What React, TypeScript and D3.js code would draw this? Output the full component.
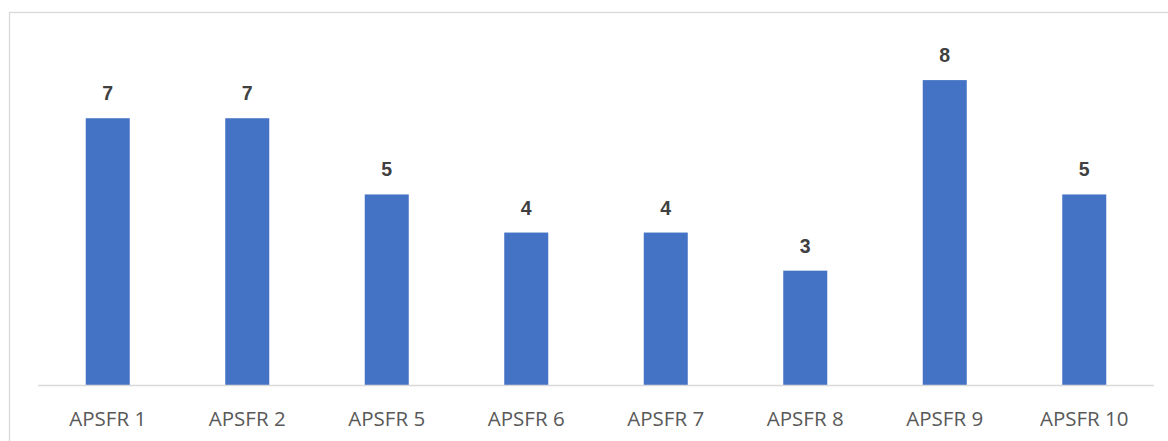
import React, { useEffect, useRef } from 'react';
import * as d3 from 'd3';

const categories = ['APSFR 1', 'APSFR 2', 'APSFR 5', 'APSFR 6', 'APSFR 7', 'APSFR 8', 'APSFR 9', 'APSFR 10'];
const values = [7, 7, 5, 4, 4, 3, 8, 5];
const yDomainMax = 9;

export default function App() {
  const svgRef = useRef<SVGSVGElement>(null);

  useEffect(() => {
    if (!svgRef.current) return;

    const svg = d3.select(svgRef.current);
    svg.selectAll('*').remove();

    const width = 1168;
    const height = 441;
    const plot = { left: 38, right: 1154, top: 42, bottom: 385 };

    // Chart frame (runs off the right and bottom edge like the screenshot)
    svg.append('rect')
      .attr('x', 9.5)
      .attr('y', 12.5)
      .attr('width', width + 20)
      .attr('height', height + 20)
      .style('fill', '#fff')
      .style('stroke', '#d9d9d9')
      .style('stroke-width', 1.3);

    // Scales
    const xScale = d3.scaleBand()
      .domain(categories)
      .range([plot.left, plot.right])
      .paddingInner(0.6846)
      .paddingOuter(0.6846 / 2);

    const xCenter = d3.scaleBand()
      .domain(categories)
      .range([plot.left, plot.right])
      .padding(0);

    const yScale = d3.scaleLinear()
      .domain([0, yDomainMax])
      .range([plot.bottom, plot.top]);

    // Bars
    svg.append('g')
      .selectAll('rect')
      .data(values)
      .enter()
      .append('rect')
      .attr('x', (d, i) => xScale(categories[i])!)
      .attr('y', d => yScale(d))
      .attr('width', xScale.bandwidth())
      .attr('height', d => yScale(0) - yScale(d))
      .style('fill', '#4472c4');

    // Baseline
    svg.append('line')
      .attr('x1', plot.left)
      .attr('x2', plot.right)
      .attr('y1', yScale(0) + 0.5)
      .attr('y2', yScale(0) + 0.5)
      .style('stroke', '#d9d9d9')
      .style('stroke-width', 1.5);

    // Value labels
    svg.append('g')
      .selectAll('text')
      .data(values)
      .enter()
      .append('text')
      .attr('x', (d, i) => xScale(categories[i])! + xScale.bandwidth() / 2)
      .attr('y', d => yScale(d) - 18)
      .attr('text-anchor', 'middle')
      .style('font-family', '"Liberation Sans", Arial, sans-serif')
      .style('font-size', '19.5px')
      .style('font-weight', '700')
      .style('fill', '#404040')
      .text(d => d);

    // Category labels
    svg.append('g')
      .selectAll('text')
      .data(categories)
      .enter()
      .append('text')
      .attr('x', d => xCenter(d)! + xCenter.bandwidth() / 2)
      .attr('y', 426)
      .attr('text-anchor', 'middle')
      .style('font-family', '"Open Sans", sans-serif')
      .style('font-size', '20.5px')
      .style('fill', '#595959')
      .text(d => d);
  }, []);

  return (
    <svg
      ref={svgRef}
      width={1168}
      height={441}
      style={{ position: 'absolute', left: 0, top: 0, background: '#fff' }}
    />
  );
}
